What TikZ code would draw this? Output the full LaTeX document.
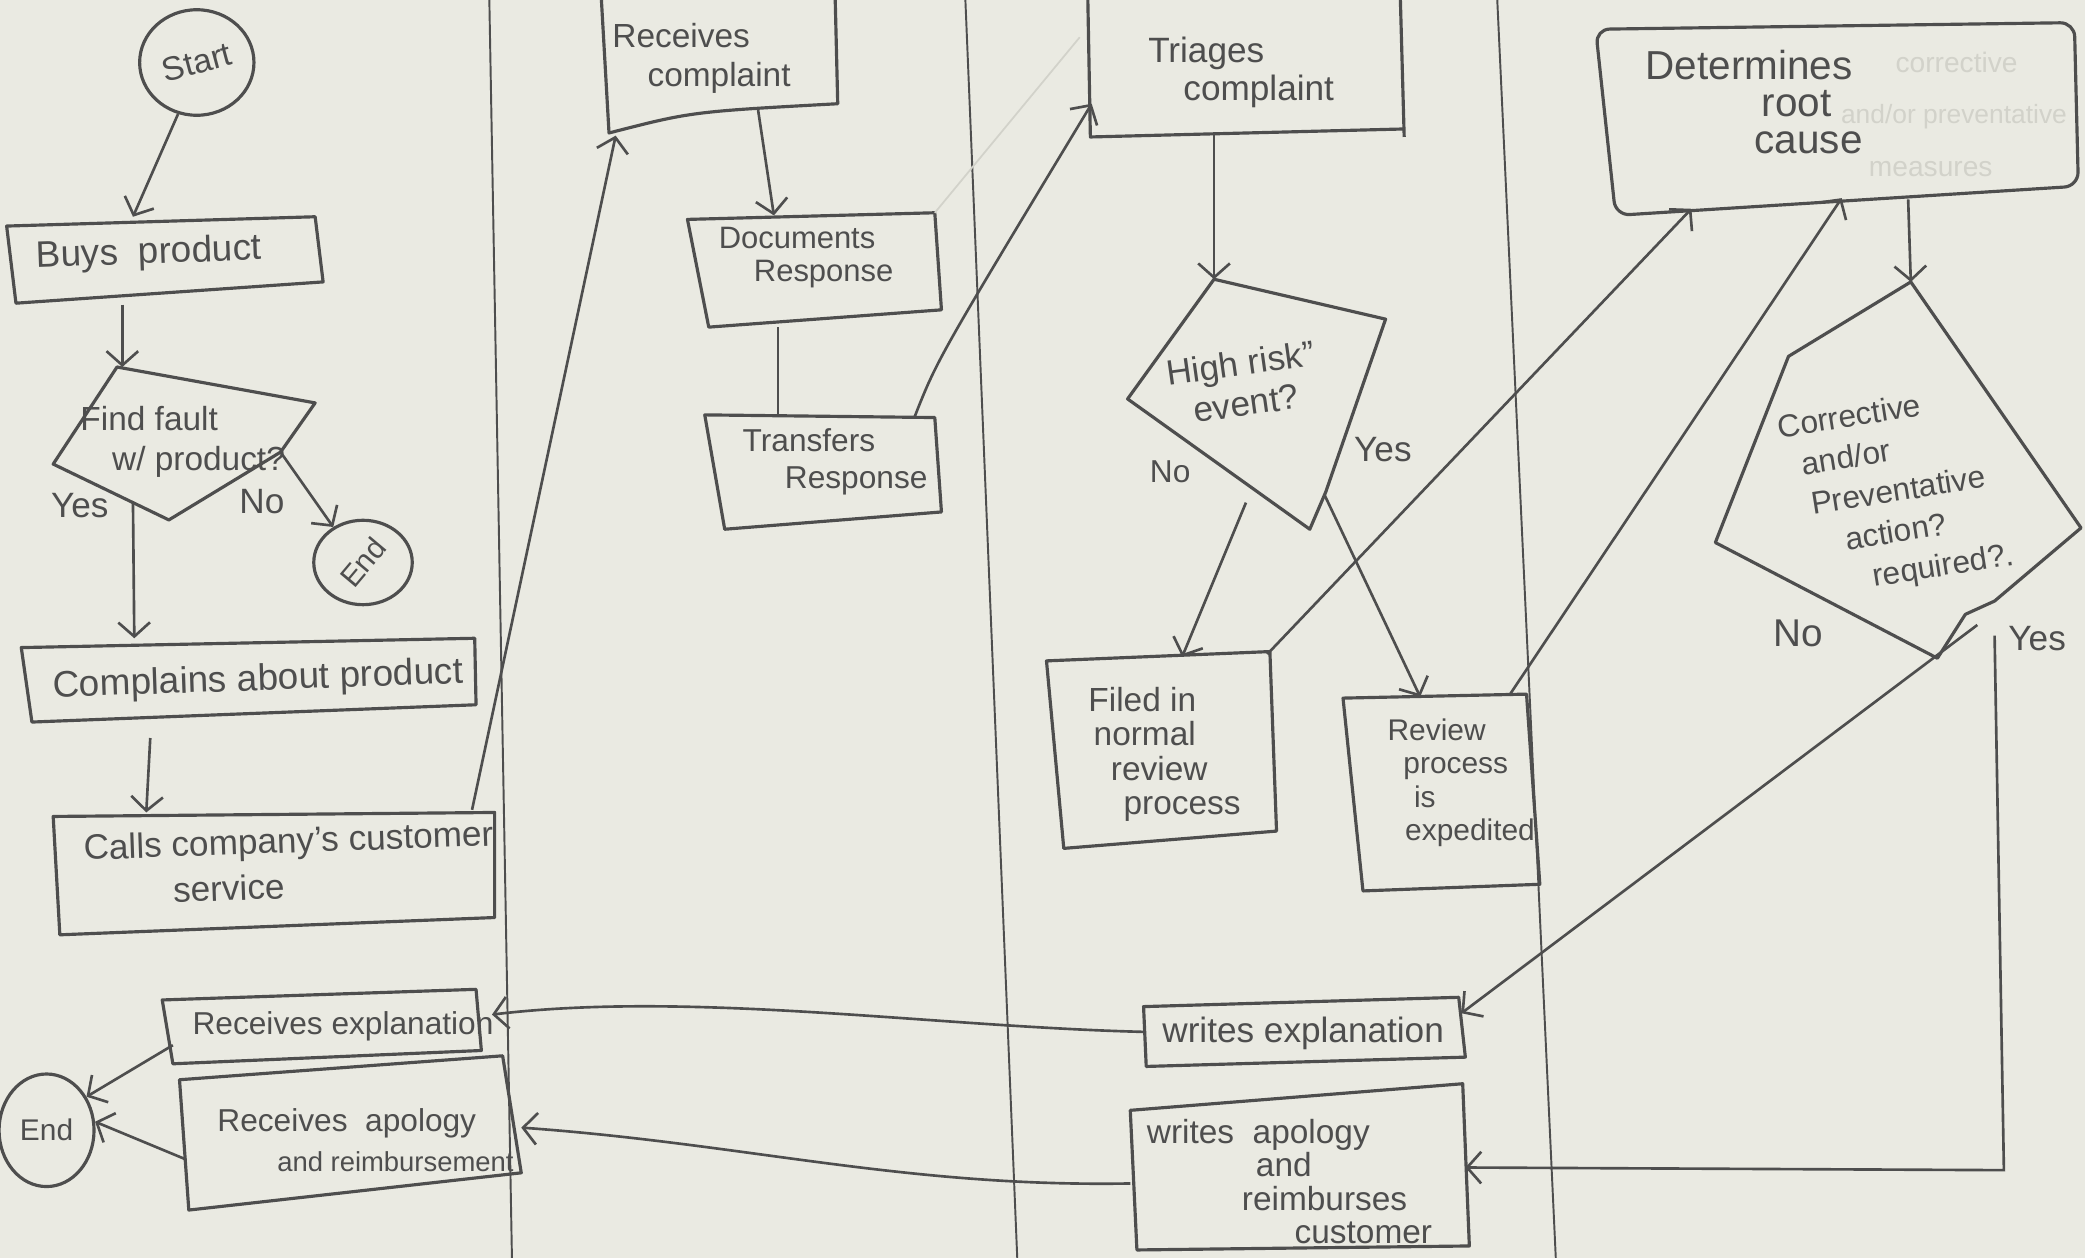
\documentclass[tikz,border=0pt]{standalone}
\usepackage{fontspec}
\usepackage{graphicx}
\setmainfont{Liberation Sans}
\usetikzlibrary{arrows.meta,shapes.geometric}
\definecolor{paper}{RGB}{234,234,226}
\definecolor{ink}{RGB}{78,78,78}
\definecolor{ghost}{RGB}{210,210,202}
\begin{document}
\begin{tikzpicture}[x=0.378pt,y=-0.378pt,
  box/.style={draw=ink, line width=0.9pt, line join=round},
  lane/.style={draw=ink, line width=0.55pt},
  conn/.style={draw=ink, line width=0.75pt},
  arr/.style={conn, -{Straight Barb[length=4pt,width=9pt,line width=0.75pt]}},
  faint/.style={draw=ghost, line width=0.5pt},
  lbl/.style={text=ink, inner sep=0pt, align=center, font=\fontsize{10}{12}\selectfont},
  nw/.style={lbl, anchor=north west, align=left},
  gh/.style={text=ghost, inner sep=0pt, font=\fontsize{8}{10}\selectfont},
  term/.style={draw=ink, line width=0.9pt, ellipse, inner sep=0pt, text=ink}
]
\fill[paper] (0,0) rectangle (1568,946);
\useasboundingbox (0,0) rectangle (1568,946);

% swimlane separators
\draw[lane] (368,0) -- (385,946);
\draw[lane] (726,0) -- (765,946);
\draw[lane] (1126,0) -- (1170,946);

% ---------------- Lane 1 : customer
\node[term, minimum width=32.5pt, minimum height=30pt] (start) at (148,47) {\rotatebox{15}{\fontsize{9.5}{11}\selectfont Start}};

\coordinate (buysTL) at (5,170); \coordinate (buysTR) at (237,163);
\coordinate (buysBR) at (243,212); \coordinate (buysBL) at (12,228);
\draw[box] (buysTL) -- (buysTR) -- (buysBR) -- (buysBL) -- cycle;
\node[lbl, rotate=2, font=\fontsize{10.5}{12}\selectfont] (buys) at (112,191) {Buys\ \ product};

\coordinate (fT) at (88,276); \coordinate (fR) at (237,303);
\coordinate (fR2) at (211,340); \coordinate (fB) at (127,391);
\coordinate (fL) at (40,349);
\draw[box] (fT) -- (fR) -- (fR2) -- (fB) -- (fL) -- cycle;
\node[nw, font=\fontsize{9.5}{11.5}\selectfont] (find) at (60,305) {Find\ fault\\\hspace{9pt}w/ product?};

\node[term, minimum width=28pt, minimum height=24pt] (end1) at (273,423) {\rotatebox{50}{\fontsize{8.5}{10}\selectfont End}};

\coordinate (cmTL) at (16,487); \coordinate (cmTR) at (357,480);
\coordinate (cmBR) at (358,530); \coordinate (cmBL) at (24,543);
\draw[box] (cmTL) -- (cmTR) -- (cmBR) -- (cmBL) -- cycle;
\node[lbl, rotate=2, font=\fontsize{10.5}{12}\selectfont] (compl) at (194,512) {Complains\ about\ product};

\coordinate (caTL) at (40,614); \coordinate (caTR) at (372,611);
\coordinate (caBR) at (372,690); \coordinate (caBL) at (45,703);
\draw[box] (caTL) -- (caTR) -- (caBR) -- (caBL) -- cycle;
\node[nw, rotate=2, font=\fontsize{10}{13}\selectfont] (calls) at (62,627) {Calls\ company's\ customer\\\hspace{25pt}service};

\coordinate (reTL) at (122,752); \coordinate (reTR) at (358,744);
\coordinate (reBR) at (362,790); \coordinate (reBL) at (130,800);
\draw[box] (reTL) -- (reTR) -- (reBR) -- (reBL) -- cycle;
\node[lbl, font=\fontsize{9}{11}\selectfont] (recexp) at (258,772) {Receives\ explanation};

\coordinate (raTL) at (135,812); \coordinate (raTR) at (378,794);
\coordinate (raBR) at (392,882); \coordinate (raBL) at (142,910);
\draw[box] (raTL) -- (raTR) -- (raBR) -- (raBL) -- cycle;
\node[nw, font=\fontsize{9}{11.5}\selectfont] (recapo) at (163,833) {Receives\ \ apology\\\hspace{17pt}{\fontsize{7.8}{10}\selectfont and reimbursement}};

\node[term, minimum width=27pt, minimum height=32pt] (end2) at (35,850) {\fontsize{8.5}{10}\selectfont End};

% ---------------- Lane 2 : customer service
\coordinate (rcTL) at (452,-5); \coordinate (rcBL) at (458,100);
\coordinate (rcBR) at (630,78); \coordinate (rcTR) at (628,-5);
\draw[box] (rcTL) -- (rcBL) .. controls (520,84) .. (rcBR) -- (rcTR);
\node[nw, font=\fontsize{9.5}{11}\selectfont] (reccomp) at (460,17) {Receives\\\hspace{10pt}complaint};

\coordinate (doTL) at (517,165); \coordinate (doTR) at (703,160);
\coordinate (doBR) at (708,233); \coordinate (doBL) at (533,246);
\draw[box] (doTL) -- (doTR) -- (doBR) -- (doBL) -- cycle;
\node[nw, font=\fontsize{8.8}{9.5}\selectfont] (docs) at (540,170) {Documents\\\hspace{10pt}Response};

\coordinate (trTL) at (530,312); \coordinate (trTR) at (703,314);
\coordinate (trBR) at (708,385); \coordinate (trBL) at (545,398);
\draw[box] (trTL) -- (trTR) -- (trBR) -- (trBL) -- cycle;
\node[nw, font=\fontsize{9}{10.5}\selectfont] (transf) at (558,322) {Transfers\\\hspace{12pt}Response};

% ---------------- Lane 3 : quality
\coordinate (tgTL) at (818,-5); \coordinate (tgBL) at (820,103);
\coordinate (tgBR) at (1055,97); \coordinate (tgTR) at (1053,-5);
\draw[box] (tgTL) -- (tgBL) -- (tgBR);
\draw[box] (tgTR) -- (1056,103);
\node[nw, font=\fontsize{10}{11}\selectfont] (triage) at (863,27) {Triages\\\hspace{10pt}complaint};

\coordinate (hT) at (913,210); \coordinate (hR) at (1042,240);
\coordinate (hR2) at (997,370); \coordinate (hB) at (985,398);
\coordinate (hL) at (848,300);
\draw[box] (hT) -- (hR) -- (hR2) -- (hB) -- (hL) -- cycle;
\node[lbl, rotate=8, font=\fontsize{10}{11.5}\selectfont] (hrisk) at (935,288) {High risk''\\event?};

\coordinate (fiTL) at (787,497); \coordinate (fiTR) at (955,490);
\coordinate (fiBR) at (960,625); \coordinate (fiBL) at (800,638);
\draw[box] (fiTL) -- (fiTR) -- (fiBR) -- (fiBL) -- cycle;
\node[nw, font=\fontsize{9.5}{9.8}\selectfont] (filed) at (818,516) {Filed\ in\\\hspace{1.5pt}normal\\\hspace{6.4pt}review\\\hspace{10pt}process};

\coordinate (rvTL) at (1010,525); \coordinate (rvTR) at (1148,522);
\coordinate (rvBR) at (1158,665); \coordinate (rvBL) at (1025,670);
\draw[box] (rvTL) -- (rvTR) -- (rvBR) -- (rvBL) -- cycle;
\node[nw, font=\fontsize{8.5}{9.5}\selectfont] (review) at (1043,540) {Review\\\hspace{4.5pt}process\\\hspace{7.5pt}is\\\hspace{5pt}expedited};

\coordinate (weTL) at (860,757); \coordinate (weTR) at (1097,750);
\coordinate (weBR) at (1102,795); \coordinate (weBL) at (862,802);
\draw[box] (weTL) -- (weTR) -- (weBR) -- (weBL) -- cycle;
\node[lbl, font=\fontsize{10}{12}\selectfont] (wexp) at (980,777) {writes\ explanation};

\coordinate (waTL) at (850,835); \coordinate (waTR) at (1100,815);
\coordinate (waBR) at (1105,937); \coordinate (waBL) at (855,940);
\draw[box] (waTL) -- (waTR) -- (waBR) -- (waBL) -- cycle;
\node[nw, font=\fontsize{9.5}{9.5}\selectfont] (wapo) at (862,841) {writes\ \ apology\\\hspace{31pt}and\\\hspace{27pt}reimburses\\\hspace{42pt}customer};

% ---------------- Lane 4 : engineering
\coordinate (deTL) at (1200,22); \coordinate (deTR) at (1560,17);
\coordinate (deBR) at (1563,140); \coordinate (deBL) at (1215,162);
\draw[box, rounded corners=4pt] (deTL) -- (deTR) -- (deBR) -- (deBL) -- cycle;
\node[nw, font=\fontsize{11.5}{10.5}\selectfont] (determ) at (1237,37) {Determines\\\hspace{33pt}root\\\hspace{31pt}cause};
\node[gh, anchor=west] (g2a) at (1425,47) {corrective};
\node[gh, anchor=west, font=\fontsize{7.5}{9}\selectfont] (g2b) at (1384,88) {and/or preventative};
\node[gh, anchor=west] (g2c) at (1405,127) {measures};

\coordinate (cT) at (1437,212); \coordinate (cL1) at (1345,268);
\coordinate (cL) at (1290,408); \coordinate (cB) at (1457,495);
\coordinate (cB2) at (1478,462); \coordinate (cR2) at (1500,452);
\coordinate (cR) at (1565,397);
\draw[box] (cT) -- (cR) -- (cR2) -- (cB2) -- (cB) -- (cL) -- (cL1) -- cycle;
\node[nw, rotate=9, font=\fontsize{9}{11.5}\selectfont] (correct) at (1335,312) {Corrective\\\hspace{5pt}and/or\\\hspace{6pt}Preventative\\\hspace{14pt}action?\\\hspace{20pt}required?.};

% ---------------- branch labels
\node[lbl] (yes1) at (60,380) {Yes};
\node[lbl] (no1) at (197,377) {No};
\node[lbl, font=\fontsize{9}{11}\selectfont] (no2) at (880,355) {No};
\node[lbl] (yes2) at (1040,338) {Yes};
\node[lbl, font=\fontsize{11}{13}\selectfont] (no3) at (1352,476) {No};
\node[lbl] (yes3) at (1532,480) {Yes};

% ---------------- connectors
\draw[arr] (start.250) -- (100,163);
\coordinate (buysOut) at (92,229);
\draw[arr] (buysOut) -- (fT -| buysOut);
\coordinate (fYes) at (100,378); \coordinate (cmIn) at (101,480);
\draw[arr] (fYes) -- (cmIn);
\draw[arr] (fR2) -- (end1.130);
\coordinate (cmOut) at (113,555); \coordinate (caIn) at (110,611);
\draw[arr] (cmOut) -- (caIn);
\coordinate (caOut) at (355,609); \coordinate (rcIn) at (463,102);
\draw[arr] (caOut) -- (rcIn);
\coordinate (rcOut) at (570,82); \coordinate (doIn) at (582,162);
\draw[arr] (rcOut) -- (doIn);
\coordinate (doOut) at (585,246); \coordinate (trIn) at (585,312);
\draw[conn] (doOut) -- (trIn);
\coordinate (trOut) at (688,313); \coordinate (tgIn) at (821,78);
\draw[arr] (trOut) .. controls (705,270) .. (tgIn);
\coordinate (fadeEnd) at (812,28);
\draw[faint] (doTR) -- (fadeEnd);
\coordinate (tgOut) at (913,100);
\draw[arr] (tgOut) -- (hT);
\coordinate (hNo) at (937,378); \coordinate (fiIn) at (889,494);
\draw[arr] (hNo) -- (fiIn);
\coordinate (hYes) at (996,372); \coordinate (rvIn) at (1068,524);
\draw[arr] (hYes) -- (rvIn);
\coordinate (fiOut) at (953,492); \coordinate (deIn1) at (1272,157);
\draw[arr] (fiOut) -- (deIn1);
\coordinate (rvOut) at (1135,523); \coordinate (deIn2) at (1385,149);
\draw[arr] (rvOut) -- (deIn2);
\coordinate (deOut) at (1435,150);
\draw[arr] (deOut) -- (cT);
\coordinate (cNo) at (1487,470); \coordinate (weIn) at (1099,762);
\draw[arr] (cNo) -- (weIn);
\coordinate (cYes) at (1500,478); \coordinate (cCorner) at (1507,880);
\coordinate (waIn) at (1102,878);
\draw[arr] (cYes) -- (cCorner) -- (waIn);
\coordinate (weOut) at (860,776); \coordinate (reIn) at (370,763);
\draw[arr] (weOut) .. controls (700,772) and (520,745) .. (reIn);
\coordinate (waOut) at (850,890); \coordinate (raIn) at (392,848);
\draw[arr] (waOut) .. controls (680,893) and (560,860) .. (raIn);
\coordinate (reOut) at (130,786);
\draw[arr] (reOut) -- (end2.40);
\coordinate (raOut) at (140,872);
\draw[arr] (raOut) -- (end2.10);
\end{tikzpicture}
\end{document}
